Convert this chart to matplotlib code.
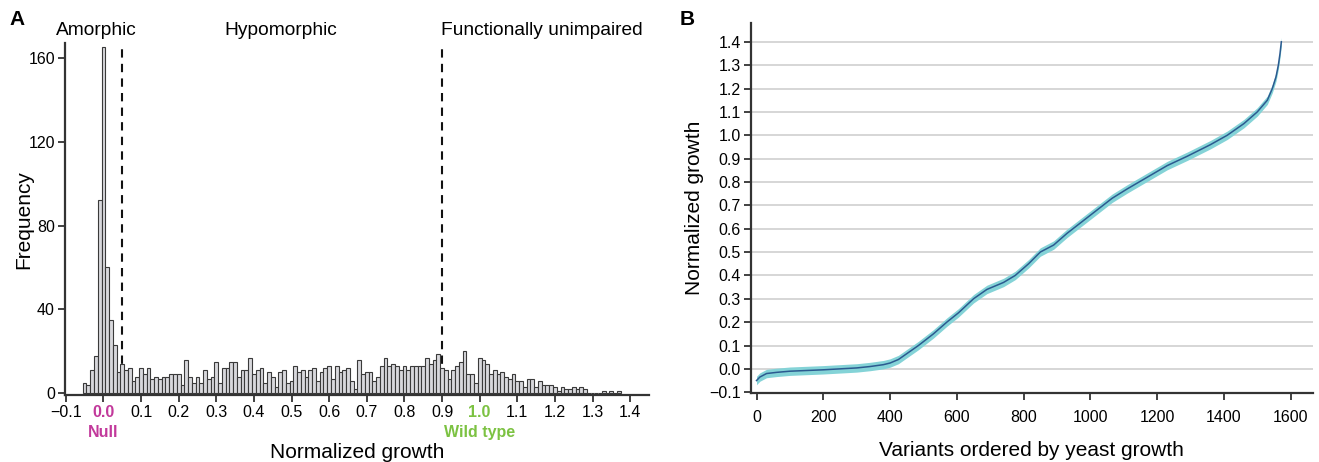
import numpy as np
import matplotlib.pyplot as plt

plt.rcParams['font.family'] = ['Liberation Sans', 'DejaVu Sans']

# ---- Panel A: histogram of normalized growth (bin centers every 0.01 from -0.05)
bin_start = -0.05
bin_width = 0.01
counts = [
    5, 4, 11, 18, 92,
    165, 60, 35, 23, 10, 14, 11, 12, 6, 8,
    12, 9, 12, 7, 8, 7, 8, 8, 9, 9,
    9, 4, 16, 8, 5, 8, 5, 11, 7, 8,
    15, 5, 12, 12, 15, 15, 8, 11, 11, 17,
    9, 11, 12, 5, 10, 8, 3, 10, 11, 5,
    6, 13, 10, 11, 8, 11, 12, 6, 10, 12,
    13, 7, 13, 10, 11, 12, 6, 2, 16, 9,
    10, 10, 6, 8, 13, 17, 13, 14, 13, 11,
    13, 11, 13, 13, 13, 13, 17, 14, 16, 19,
    12, 11, 7, 11, 13, 15, 20, 9, 9, 5,
    17, 16, 14, 9, 11, 9, 10, 8, 7, 9,
    6, 6, 3, 7, 7, 3, 6, 4, 4, 4,
    3, 1, 3, 2, 2, 3, 2, 3, 2, 0,
    0, 0, 0, 1, 0, 1, 0, 1,
]
class_bounds = [0.05, 0.9]
class_names = ["Amorphic", "Hypomorphic", "Functionally unimpaired"]
xticks_a = [-0.1, 0.0, 0.1, 0.2, 0.3, 0.4, 0.5, 0.6, 0.7, 0.8, 0.9, 1.0, 1.1, 1.2, 1.3, 1.4]
yticks_a = [0, 40, 80, 120, 160]

# ---- Panel B: variants ordered by growth
rank = [0, 10, 30, 60, 100, 200, 250, 300, 340, 380, 400, 425, 455, 485, 530,
        570, 605, 650, 690, 740, 775, 815, 850, 890, 930, 975, 1020, 1065, 1110,
        1170, 1230, 1290, 1360, 1410, 1460, 1500, 1530, 1545, 1556, 1563, 1568, 1572]
growth = [-0.05, -0.035, -0.02, -0.015, -0.01, -0.004, 0.0, 0.004, 0.01, 0.018, 0.025,
          0.04, 0.07, 0.1, 0.15, 0.2, 0.24, 0.3, 0.34, 0.37, 0.4, 0.45, 0.5, 0.53,
          0.58, 0.63, 0.68, 0.73, 0.77, 0.82, 0.87, 0.91, 0.96, 1.0, 1.05, 1.1, 1.15,
          1.2, 1.25, 1.3, 1.35, 1.4]
band_half = 0.018

magenta = '#c2399b'
green = '#7cc242'
dark = '#333333'

fig = plt.figure(figsize=(13.19, 4.62), dpi=100)

# ---------------- Panel A ----------------
ax = fig.add_axes([0.049, 0.144, 0.443, 0.763])
centers = bin_start + bin_width * np.arange(len(counts))
ax.bar(centers, counts, width=bin_width, color='#d8d8dc', edgecolor='#3a3a3a',
       linewidth=0.8, zorder=2)
for b in class_bounds:
    ax.vlines(b, 0, 167, colors='#111111', linestyles=(0, (4, 3)), lw=1.5, zorder=1)

ax.set_xlim(-0.103, 1.45)
ax.set_ylim(-1, 167)
ax.set_xticks(xticks_a)
ax.set_xticklabels([f"{t:.1f}".replace('-', '\u2212') for t in xticks_a], fontsize=11.5)
ax.set_yticks(yticks_a)
ax.set_yticklabels([str(t) for t in yticks_a], fontsize=11.5)
for sp in ['top', 'right']:
    ax.spines[sp].set_visible(False)
for sp in ['left', 'bottom']:
    ax.spines[sp].set_color(dark)
    ax.spines[sp].set_linewidth(1.6)
ax.tick_params(length=5, width=1.3, color=dark, pad=2)

xt = ax.get_xticklabels()
for lab, t in zip(xt, xticks_a):
    if abs(t - 0.0) < 1e-9:
        lab.set_color(magenta)
        lab.set_fontweight('bold')
    elif abs(t - 1.0) < 1e-9:
        lab.set_color(green)
        lab.set_fontweight('bold')
tl = ax.xaxis.get_ticklines()
for i, t in enumerate(xticks_a):
    if abs(t - 0.0) < 1e-9:
        tl[2 * i].set_color(magenta)
    elif abs(t - 1.0) < 1e-9:
        tl[2 * i].set_color(green)

ax.text(0.0, -0.083, "Null", transform=ax.get_xaxis_transform(), ha='center',
        va='top', color=magenta, fontweight='bold', fontsize=11.5)
ax.text(1.0, -0.083, "Wild type", transform=ax.get_xaxis_transform(), ha='center',
        va='top', color=green, fontweight='bold', fontsize=11.5)
ax.set_xlabel("Normalized growth", fontsize=15)
ax.xaxis.set_label_coords(0.5, -0.135)
ax.set_ylabel("Frequency", fontsize=15)
ax.yaxis.set_label_coords(-0.054, 0.5)

trans = ax.get_xaxis_transform()
ax.text(-0.125, 1.01, class_names[0], transform=trans, ha='left', va='bottom', fontsize=13.8)
ax.text(0.471, 1.01, class_names[1], transform=trans, ha='center', va='bottom', fontsize=13.8)
ax.text(0.898, 1.01, class_names[2], transform=trans, ha='left', va='bottom', fontsize=13.8)

fig.text(0.007, 0.957, "A", fontsize=15, fontweight='bold', ha='left', va='center')

# ---------------- Panel B ----------------
bx = fig.add_axes([0.569, 0.149, 0.4265, 0.801])
r = np.array(rank)
g = np.array(growth)
bx.fill_between(r, g - band_half, g + band_half, color='#84d3d7', lw=0, zorder=2)
bx.plot(r, g, color='#2b5a90', lw=1.1, zorder=3)

yticks_b = [-0.1, 0.0, 0.1, 0.2, 0.3, 0.4, 0.5, 0.6, 0.7, 0.8, 0.9, 1.0, 1.1, 1.2, 1.3, 1.4]
xticks_b = [0, 200, 400, 600, 800, 1000, 1200, 1400, 1600]
bx.set_xlim(-18, 1667)
bx.set_ylim(-0.104, 1.48)
bx.set_yticks(yticks_b)
bx.set_yticklabels([f"{t:.1f}".replace('-', '\u2212') for t in yticks_b], fontsize=11.5)
bx.set_xticks(xticks_b)
bx.set_xticklabels([str(t) for t in xticks_b], fontsize=11.5)
for t in yticks_b[1:]:
    bx.axhline(t, color='#d0d0d0', lw=1.2, zorder=1)
for sp in ['top', 'right']:
    bx.spines[sp].set_visible(False)
for sp in ['left', 'bottom']:
    bx.spines[sp].set_color(dark)
    bx.spines[sp].set_linewidth(1.6)
bx.tick_params(length=5, width=1.3, color=dark, pad=2)
bx.tick_params(axis='x', pad=7)
bx.set_xlabel("Variants ordered by yeast growth", fontsize=15)
bx.xaxis.set_label_coords(0.5, -0.128)
bx.set_ylabel("Normalized growth", fontsize=15)
bx.yaxis.set_label_coords(-0.082, 0.5)

fig.text(0.515, 0.957, "B", fontsize=15, fontweight='bold', ha='left', va='center')

fig.savefig("out.png", dpi=100)
